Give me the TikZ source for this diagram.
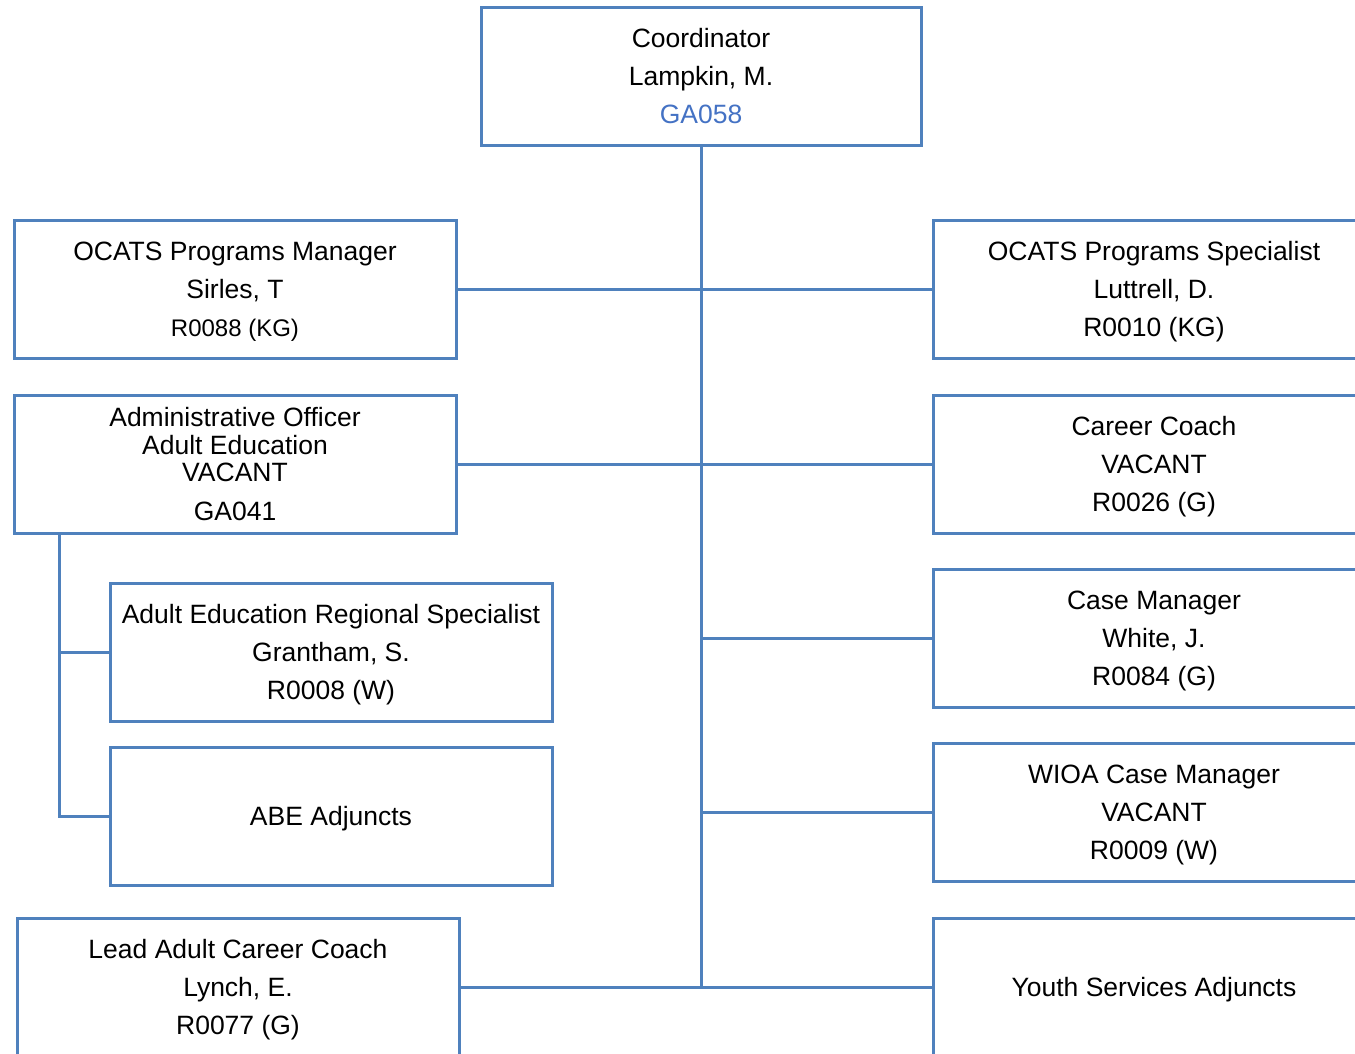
\documentclass[tikz,border=0pt]{standalone}
\usepackage{fontspec}
\setmainfont{Liberation Sans}
\definecolor{boxblue}{HTML}{4F81BD}
\definecolor{codeblue}{HTML}{4472C4}
\tikzset{
  orgbox/.style={draw=boxblue, line width=3pt, rectangle, minimum width=442pt, minimum height=138pt, inner sep=0pt, text depth=0pt, align=center, font=\fontsize{26.5}{38}\selectfont},
  link/.style={draw=boxblue, line width=3pt}
}
\begin{document}
\begin{tikzpicture}[x=1pt,y=-1pt]
\useasboundingbox (0,0) rectangle (1355,1053);
\clip (0,0) rectangle (1355,1053);
\fill[white] (0,0) rectangle (1355,1053);

\node[orgbox, minimum width=440pt] (coord) at (701,76) {Coordinator\\Lampkin, M.\\\textcolor{codeblue}{GA058}};
\node[orgbox] (mgr) at (235,289) {OCATS Programs Manager\\Sirles, T\\{\fontsize{24}{38}\selectfont R0088 (KG)}};
\node[orgbox] (spec) at (1154,289) {OCATS Programs Specialist\\Luttrell, D.\\R0010 (KG)};
\node[orgbox, font=\fontsize{26.5}{27.5}\selectfont] (admin) at (235,464) {Administrative Officer\\Adult Education\\VACANT\\[11pt]GA041};
\node[orgbox] (career) at (1154,464) {Career Coach\\VACANT\\R0026 (G)};
\node[orgbox] (case) at (1154,638) {Case Manager\\White, J.\\R0084 (G)};
\node[orgbox] (wioa) at (1154,812) {WIOA Case Manager\\VACANT\\R0009 (W)};
\node[orgbox] (youth) at (1154,987) {Youth Services Adjuncts};
\node[orgbox] (lead) at (238,987) {Lead Adult Career Coach\\Lynch, E.\\R0077 (G)};
\node[orgbox] (aers) at (331,652) {Adult Education Regional Specialist\\Grantham, S.\\R0008 (W)};
\node[orgbox] (abe) at (331,816) {ABE Adjuncts};

\coordinate (sb) at (59,533);

\draw[link] (coord.south) -- (coord.south |- lead.east);
\draw[link] (mgr.east) -- (spec.west);
\draw[link] (admin.east) -- (career.west);
\draw[link] (coord.south |- case.west) -- (case.west);
\draw[link] (coord.south |- wioa.west) -- (wioa.west);
\draw[link] (lead.east) -- (youth.west);
\draw[link] (sb) |- (abe.west);
\draw[link] (sb |- aers.west) -- (aers.west);
\end{tikzpicture}
\end{document}
